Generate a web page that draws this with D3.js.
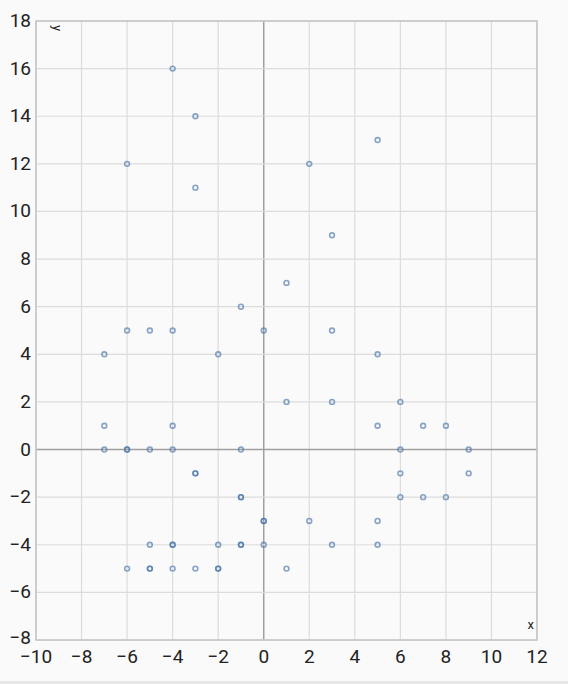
<!DOCTYPE html>
<html><head><meta charset="utf-8">
<script src="https://cdn.jsdelivr.net/npm/d3@7/dist/d3.min.js"></script>
<style>
html,body{margin:0;padding:0;background:#fafafa;}
svg{display:block;font-family:Roboto,"Noto Sans",sans-serif;}
</style></head>
<body>
<script>
const xs = [-4,-3,-6,-3,2,5,3,1,-1,-6,-5,-4,0,3,-7,-2,5,1,3,6,-7,-4,5,7,8,-7,-6,-6,-5,-4,-1,6,9,-3,-3,6,9,-1,-1,6,7,8,0,0,2,5,-5,-4,-4,-2,-1,-1,0,3,5,-6,-5,-5,-4,-3,-2,-2,1];
const ys = [16,14,12,11,12,13,9,7,6,5,5,5,5,5,4,4,4,2,2,2,1,1,1,1,1,0,0,0,0,0,0,0,0,-1,-1,-1,-1,-2,-2,-2,-2,-2,-3,-3,-3,-3,-4,-4,-4,-4,-4,-4,-4,-4,-4,-5,-5,-5,-5,-5,-5,-5,-5];
const xDomain = [-10,12];
const yDomain = [-8,18];
const xTicks = d3.range(-10,13,2);
const yTicks = d3.range(-8,19,2);

const W=568,H=684;
const m={l:36,r:31,t:21,b:41};
const svg=d3.select("body").append("svg").attr("width",W).attr("height",H);
svg.append("rect").attr("x",0).attr("y",H-3).attr("width",W).attr("height",3).attr("fill","#e8e8e8");
const x=d3.scaleLinear().domain(xDomain).range([m.l,W-m.r]);
const y=d3.scaleLinear().domain(yDomain).range([H-m.b-3,m.t]);
const g=svg.append("g");
// grid
g.selectAll(".gx").data(xTicks).join("line").attr("x1",d=>x(d)).attr("x2",d=>x(d)).attr("y1",y.range()[0]).attr("y2",y.range()[1]).attr("stroke",d=>d===0?"#a0a0a0":"#dcdcdc").attr("stroke-width",d=>d===0?1.5:1.2);
g.selectAll(".gy").data(yTicks).join("line").attr("y1",d=>y(d)).attr("y2",d=>y(d)).attr("x1",x.range()[0]).attr("x2",x.range()[1]).attr("stroke",d=>d===0?"#a0a0a0":"#dcdcdc").attr("stroke-width",d=>d===0?1.5:1.2);
// frame
g.append("rect").attr("x",x.range()[0]).attr("y",y.range()[1]).attr("width",x.range()[1]-x.range()[0]).attr("height",y.range()[0]-y.range()[1]).attr("fill","none").attr("stroke","#c4c4c4").attr("stroke-width",1.5);
// axes labels
const fmt=d=>d<0?"\u2212"+Math.abs(d):String(d);
svg.append("g").selectAll("text").data(xTicks).join("text").attr("x",d=>x(d)).attr("y",y.range()[0]+23).attr("text-anchor","middle").attr("font-size",19).attr("fill","#222").text(fmt);
svg.append("g").selectAll("text").data(yTicks).join("text").attr("x",m.l-5).attr("y",d=>y(d)+(d===-8?4:6)).attr("text-anchor","end").attr("font-size",19).attr("fill","#222").text(fmt);
svg.append("text").attr("transform",`translate(${x.range()[0]+17},${y.range()[1]+4}) rotate(90)`).attr("font-size",13).attr("fill","#222").text("y");
svg.append("text").attr("x",x.range()[1]-3).attr("y",y.range()[0]-11).attr("text-anchor","end").attr("font-size",13).attr("fill","#222").text("x");
// points
g.selectAll("circle").data(xs.map((v,i)=>[v,ys[i]])).join("circle").attr("cx",d=>x(d[0])).attr("cy",d=>y(d[1])).attr("r",2.4).attr("fill","none").attr("stroke","#4a77a8").attr("stroke-opacity",0.65).attr("stroke-width",1.6);
</script>
</body></html>
